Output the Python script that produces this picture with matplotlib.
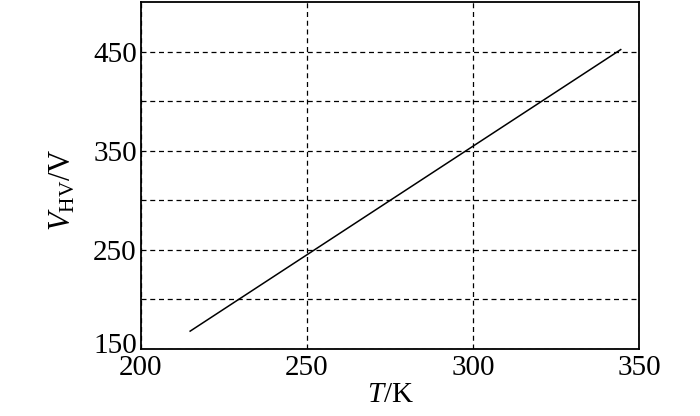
import matplotlib.pyplot as plt
from matplotlib.transforms import ScaledTranslation

# data
T = [214.8, 344.5]
V_hv = [168, 452]

x_ticks = [200, 250, 300, 350]
y_grid = [150, 200, 250, 300, 350, 400, 450]
y_labels = ['150', '', '250', '', '350', '', '450']

plt.rcParams['mathtext.fontset'] = 'custom'
plt.rcParams['mathtext.rm'] = 'Liberation Serif'
plt.rcParams['mathtext.it'] = 'Liberation Serif:italic'
plt.rcParams['font.family'] = 'Liberation Serif'

fig = plt.figure(figsize=(7, 4.16), dpi=100)
ax = fig.add_axes([141/700, 1 - 349/416, 498/700, 347/416])

ax.plot(T, V_hv, color='black', lw=1.1)

ax.set_xlim(200, 350)
ax.set_ylim(150, 500)
ax.set_xticks(x_ticks)
ax.set_yticks(y_grid)
ax.set_yticklabels(y_labels)
ax.tick_params(length=0, labelsize=21, pad=3)
ax.tick_params(axis='x', pad=4)
ax.grid(True, color='black', linestyle=(0, (4, 3)), lw=0.9)

# the lowest y label sits a bit above its grid line
lbl = ax.get_yticklabels()[0]
lbl.set_transform(lbl.get_transform() + ScaledTranslation(0, 6/100, fig.dpi_scale_trans))

for s in ax.spines.values():
    s.set_linewidth(1.3)

ax.set_xlabel(r'$T$/K', fontsize=21, labelpad=1)
ax.set_ylabel(r'$V_{\rm HV}$/V', fontsize=22)
ax.yaxis.set_label_coords(-0.128, 0.458)

fig.savefig('out.png', dpi=100)
